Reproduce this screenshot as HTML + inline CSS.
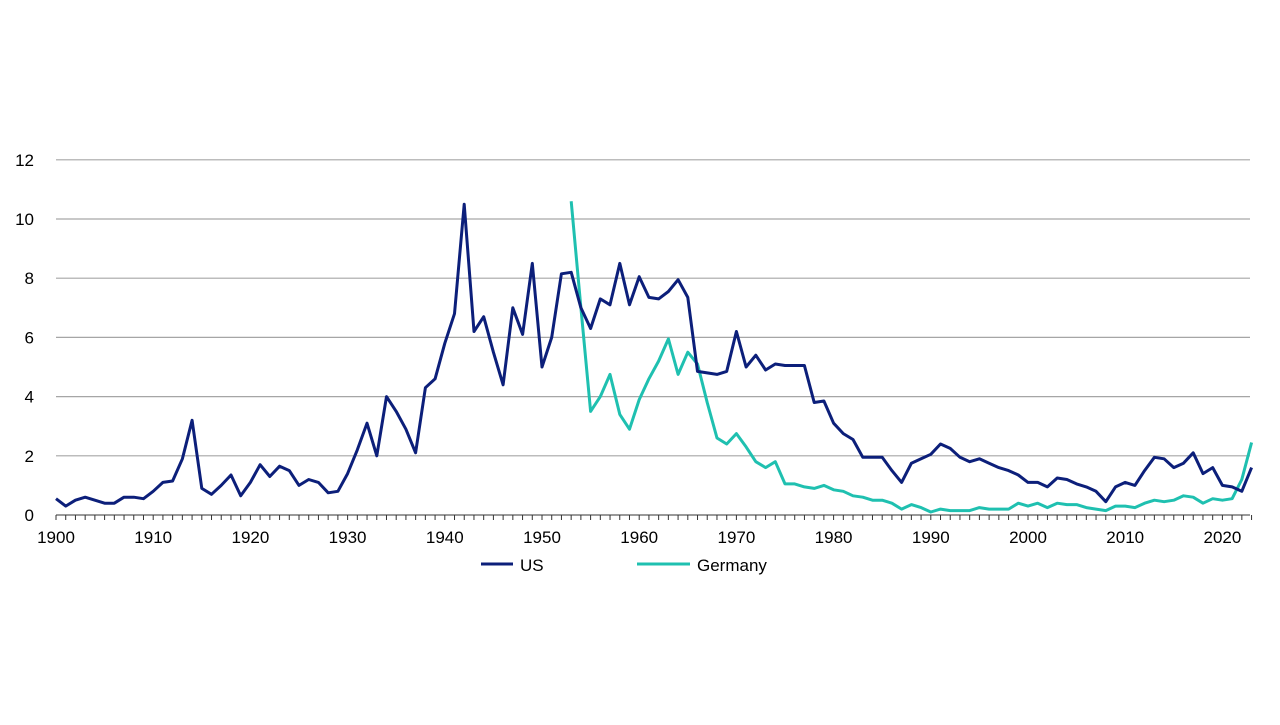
<!DOCTYPE html>
<html><head><meta charset="utf-8"><style>
body{margin:0;background:#fff;}
svg text{font-family:"Liberation Sans",Arial,sans-serif;fill:#000;}
</style></head><body>
<svg id="chart" width="1280" height="720">
<g id="grid"></g>
<g id="yticks"></g>
<g id="xaxis"></g>
<g id="series"></g>
<g>
<g>
<line x1="481" y1="564" x2="513" y2="564" stroke="#0c1f7a" stroke-width="3"/>
<text x="520" y="571" font-size="17">US</text></g>
<g>
<line x1="637" y1="564" x2="690" y2="564" stroke="#1fc0b0" stroke-width="3"/>
<text x="697" y="571" font-size="17">Germany</text></g>
</g>
</svg>
<script>
const usStart = 1900;
const usValues = [0.55,0.3,0.5,0.6,0.5,0.4,0.4,0.6,0.6,0.55,
0.8,1.1,1.15,1.9,3.2,0.9,0.7,1.0,1.35,0.65,
1.1,1.7,1.3,1.65,1.5,1.0,1.2,1.1,0.75,0.8,
1.4,2.2,3.1,2.0,4.0,3.5,2.9,2.1,4.3,4.6,
5.8,6.8,10.5,6.2,6.7,5.5,4.4,7.0,6.1,8.5,
5.0,6.0,8.15,8.2,7.0,6.3,7.3,7.1,8.5,7.1,
8.05,7.35,7.3,7.55,7.95,7.35,4.85,4.8,4.75,4.85,
6.2,5.0,5.4,4.9,5.1,5.05,5.05,5.05,3.8,3.85,
3.1,2.75,2.55,1.95,1.95,1.95,1.5,1.1,1.75,1.9,
2.05,2.4,2.25,1.95,1.8,1.9,1.75,1.6,1.5,1.35,
1.1,1.1,0.95,1.25,1.2,1.05,0.95,0.8,0.45,0.95,
1.1,1.0,1.5,1.95,1.9,1.6,1.75,2.1,1.4,1.6,
1.0,0.95,0.8,1.6];
const deStart = 1953;
const deValues = [10.6,7.0,3.5,4.0,4.75,3.4,2.9,
3.9,4.6,5.2,5.95,4.75,5.5,5.1,3.8,2.6,2.4,
2.75,2.3,1.8,1.6,1.8,1.05,1.05,0.95,0.9,1.0,
0.85,0.8,0.65,0.6,0.5,0.5,0.4,0.2,0.35,0.25,
0.1,0.2,0.15,0.15,0.15,0.25,0.2,0.2,0.2,0.4,
0.3,0.4,0.25,0.4,0.35,0.35,0.25,0.2,0.15,0.3,
0.3,0.25,0.4,0.5,0.45,0.5,0.65,0.6,0.4,0.55,
0.5,0.55,1.2,2.45];
const yTicks = [0,2,4,6,8,10,12];
const xTickLabels = [1900,1910,1920,1930,1940,1950,1960,1970,1980,1990,2000,2010,2020];

const NS="http://www.w3.org/2000/svg";
const X0=56, PX=9.72, Y0=515, PY=29.6, XR=1250;
const xs = yr => X0+(yr-1900)*PX;
const ys = v => Y0-v*PY;
function mk(tag, attrs, parent){const e=document.createElementNS(NS,tag);for(const k in attrs)e.setAttribute(k,attrs[k]);parent.appendChild(e);return e;}
const grid=document.getElementById('grid'), yt=document.getElementById('yticks'), xa=document.getElementById('xaxis'), se=document.getElementById('series');
yTicks.forEach(v=>{
  if(v>0){const l=mk('line',{x1:X0,x2:XR,y1:ys(v),y2:ys(v),stroke:'#a6a6a6','stroke-width':1.2},grid);
  
  }
  const t=mk('text',{x:34,y:ys(v)+6,'font-size':17,'text-anchor':'end'},yt);
  t.textContent=v;
  
  
});
const ax=mk('line',{x1:X0,x2:XR,y1:Y0,y2:Y0,stroke:'#333','stroke-width':1},xa);


for(let yr=1900;yr<=2023;yr++){
  const tk=mk('line',{x1:xs(yr),x2:xs(yr),y1:Y0,y2:Y0+5,stroke:'#333','stroke-width':1},xa);
  
  
}
xTickLabels.forEach(yr=>{
  const t=mk('text',{x:xs(yr),y:Y0+28,'font-size':17,'text-anchor':'middle'},xa);
  t.textContent=yr;
  
  
});
function line(start, vals, color, name){
  const d=vals.map((v,i)=>(i?'L':'M')+xs(start+i).toFixed(1)+','+ys(v).toFixed(1)).join(' ');
  const p=mk('path',{d:d,fill:'none',stroke:color,'stroke-width':3,'stroke-linejoin':'round'},se);
  
  
}
line(deStart,deValues,'#1fc0b0','germany-line');
line(usStart,usValues,'#0c1f7a','us-line');
</script>
</body></html>
